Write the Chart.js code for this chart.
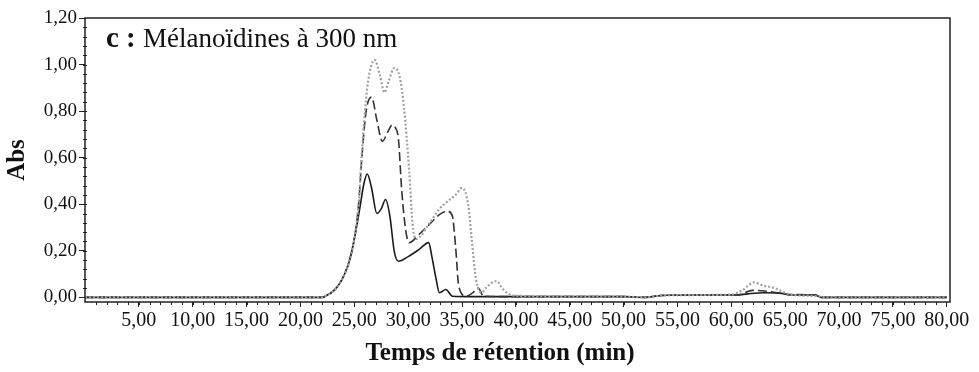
<!DOCTYPE html>
<html>
<head>
<meta charset="utf-8">
<script src="https://cdn.jsdelivr.net/npm/chart.js@4.4.1/dist/chart.umd.min.js"></script>
<style>
    html, body { margin: 0; padding: 0; background: #fff; }
    #zone { width: 979px; height: 372px; }
</style>
</head>
<body>
<div id="zone"><canvas id="graphe"></canvas></div>
<script>
// courbe 1 (trait plein)
const tempsCourbe1 = [0, 22, 22.5, 23, 23.5, 24, 24.5, 25, 25.5, 25.9, 26.2, 26.6, 27.1, 27.5, 27.9, 28.3, 28.7, 29.1, 30, 31, 31.9, 32.2, 32.6, 32.9, 33.5, 34.1, 36, 45, 50, 52, 53.5, 57, 60.5, 61.5, 63, 64.5, 65.5, 67.8, 68.3, 80];
const absCourbe1 = [0, 0, 0.01, 0.025, 0.05, 0.09, 0.15, 0.25, 0.38, 0.49, 0.53, 0.47, 0.36, 0.38, 0.42, 0.35, 0.2, 0.155, 0.175, 0.205, 0.235, 0.175, 0.077, 0.02, 0.034, 0.005, 0.003, 0.003, 0.003, 0, 0.008, 0.01, 0.01, 0.015, 0.02, 0.018, 0.01, 0.01, 0, 0];

// courbe 2 (tirets)
const tempsCourbe2 = [0, 22, 22.5, 23, 23.5, 24, 24.5, 25, 25.4, 25.7, 26.1, 26.6, 27.1, 27.6, 28.1, 28.5, 28.8, 29.1, 29.4, 29.8, 30.1, 31, 32, 32.9, 33.6, 34.1, 34.4, 34.7, 35.4, 36, 36.5, 37, 40, 50, 52, 53.5, 57, 60.5, 62, 63.5, 65.5, 67.8, 68.3, 80];
const absCourbe2 = [0, 0, 0.01, 0.025, 0.05, 0.09, 0.15, 0.25, 0.4, 0.6, 0.8, 0.86, 0.76, 0.67, 0.71, 0.74, 0.73, 0.68, 0.46, 0.28, 0.235, 0.27, 0.315, 0.355, 0.37, 0.35, 0.22, 0.047, 0.005, 0.02, 0.04, 0.005, 0.003, 0.003, 0, 0.008, 0.01, 0.01, 0.03, 0.025, 0.012, 0.01, 0, 0];

// courbe 3 (pointillés)
const tempsCourbe3 = [0, 22, 22.5, 23, 23.5, 24, 24.5, 25, 25.4, 25.7, 26.2, 26.9, 27.4, 27.8, 28.2, 28.7, 29.2, 29.6, 30.1, 30.4, 30.7, 32, 32.9, 33.6, 34.4, 35, 35.6, 35.9, 36.3, 36.8, 37.3, 38.2, 38.8, 39.7, 45, 50, 52, 53.5, 57, 60, 61, 62.1, 63, 63.8, 65.4, 66.5, 68, 69, 80];
const absCourbe3 = [0, 0, 0.01, 0.025, 0.05, 0.09, 0.15, 0.25, 0.4, 0.62, 0.9, 1.02, 0.95, 0.88, 0.93, 0.985, 0.95, 0.82, 0.54, 0.32, 0.25, 0.32, 0.38, 0.41, 0.44, 0.47, 0.39, 0.25, 0.077, 0.02, 0.045, 0.07, 0.035, 0.008, 0.003, 0.003, 0, 0.008, 0.01, 0.012, 0.03, 0.064, 0.05, 0.043, 0.013, 0.008, 0.005, 0, 0];

const ticksX = [5, 10, 15, 20, 25, 30, 35, 40, 45, 50, 55, 60, 65, 70, 75, 80];
const ticksY = [0, 0.2, 0.4, 0.6, 0.8, 1.0, 1.2];

const lettre = "c :";
const titreGraphe = "Mélanoïdines à 300 nm";
const titreX = "Temps de rétention (min)";

function points(temps, abs) {
    return temps.map((t, i) => ({ x: t, y: abs[i] }));
}

function formatVirgule(v) {
    return Number(v).toFixed(2).replace(".", ",");
}

const police = '"Liberation Serif", "Times New Roman", serif';

// cadre + petites graduations + titres
const decorations = {
    id: "decorations",
    afterDraw(chart) {
        const ctx = chart.ctx;
        const zone = chart.chartArea;
        const sx = chart.scales.x;
        const sy = chart.scales.y;

        ctx.save();
        ctx.strokeStyle = "#222";
        ctx.lineWidth = 1.5;
        ctx.strokeRect(zone.left, zone.top, zone.right - zone.left, zone.bottom - zone.top);

        ctx.lineWidth = 1;
        ctx.beginPath();
        for (let t = 1; t < 80; t += 1) {
            const px = Math.round(sx.getPixelForValue(t)) + 0.5;
            ctx.moveTo(px, zone.bottom);
            ctx.lineTo(px, zone.bottom + 3);
        }
        for (let v = 0.04; v < 1.2; v += 0.04) {
            const py = Math.round(sy.getPixelForValue(v)) + 0.5;
            ctx.moveTo(zone.left - 2, py);
            ctx.lineTo(zone.left + 2, py);
        }
        ctx.stroke();

        ctx.fillStyle = "#111";
        ctx.textBaseline = "alphabetic";
        ctx.font = "bold 29px " + police;
        ctx.fillText(lettre, zone.left + 21, zone.top + 29);
        const largeur = ctx.measureText(lettre + " ").width;
        ctx.font = "27px " + police;
        ctx.fillText(titreGraphe, zone.left + 21 + largeur, zone.top + 29);

        // titre de l'axe des x, centré comme dans l'original
        ctx.font = "bold 25px " + police;
        ctx.textAlign = "center";
        ctx.textBaseline = "middle";
        ctx.fillText(titreX, 500, 354);
        ctx.restore();
    }
};

new Chart(document.getElementById("graphe"), {
    type: "line",
    data: {
        datasets: [
            {
                label: "pointillés",
                data: points(tempsCourbe3, absCourbe3),
                borderColor: "#a0a0a0",
                borderWidth: 2.2,
                borderDash: [2, 2]
            },
            {
                label: "tirets",
                data: points(tempsCourbe2, absCourbe2),
                borderColor: "#333",
                borderWidth: 1.6,
                borderDash: [9, 4]
            },
            {
                label: "plein",
                data: points(tempsCourbe1, absCourbe1),
                borderColor: "#1a1a1a",
                borderWidth: 1.6
            }
        ]
    },
    options: {
        responsive: true,
        maintainAspectRatio: false,
        animation: false,
        layout: { padding: { top: 18, right: 29, left: 0, bottom: 0 } },
        elements: {
            point: { radius: 0 },
            line: { cubicInterpolationMode: "monotone", fill: false }
        },
        plugins: {
            legend: { display: false },
            tooltip: { enabled: false }
        },
        scales: {
            x: {
                type: "linear",
                min: 0,
                max: 80.3,
                afterBuildTicks: (scale) => { scale.ticks = ticksX.map(v => ({ value: v })); },
                afterFit: (scale) => { scale.height = 70; },
                grid: { display: true, drawOnChartArea: false, tickLength: 5, color: "#222" },
                border: { display: false },
                ticks: {
                    color: "#111",
                    padding: 2,
                    maxRotation: 0,
                    autoSkip: false,
                    font: { family: police, size: 20 },
                    callback: (v) => formatVirgule(v)
                },
                title: { display: false }
            },
            y: {
                min: -0.02,
                max: 1.2,
                afterBuildTicks: (scale) => { scale.ticks = ticksY.map(v => ({ value: v })); },
                afterFit: (scale) => { scale.width = 85; },
                grid: { display: true, drawOnChartArea: false, tickLength: 6, color: "#222" },
                border: { display: false },
                ticks: {
                    color: "#111",
                    padding: 2,
                    autoSkip: false,
                    font: { family: police, size: 19 },
                    callback: (v) => formatVirgule(v)
                },
                title: {
                    display: true,
                    text: "Abs",
                    color: "#111",
                    font: { family: police, size: 25, weight: "bold" },
                    padding: { top: 3, bottom: 0 }
                }
            }
        }
    },
    plugins: [decorations]
});
</script>
</body>
</html>
